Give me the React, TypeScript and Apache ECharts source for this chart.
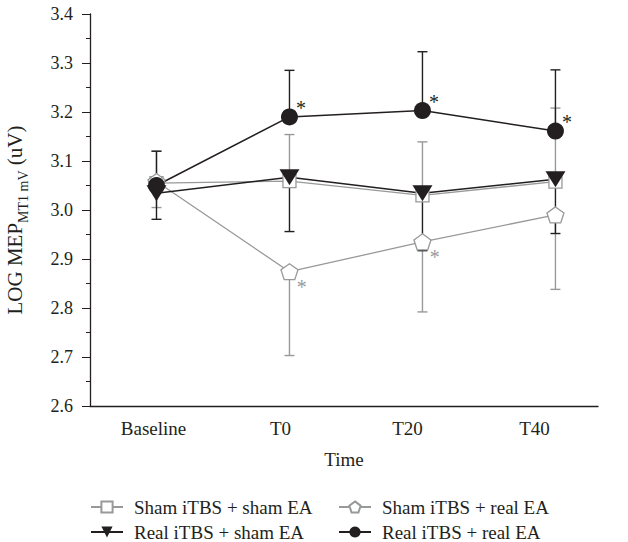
import React, { useEffect, useRef } from "react";
import * as echarts from "echarts";

// ---- data ----
const categories = ["Baseline", "T0", "T20", "T40"];
const yMin = 2.6;
const yMax = 3.4;
const yInterval = 0.1;

const shamShamName = "Sham iTBS + sham EA";
const shamShamMean = [3.055, 3.059, 3.03, 3.058];
const shamShamUpper = [3.12, 3.154, 3.139, 3.208];

const shamRealName = "Sham iTBS + real EA";
const shamRealMean = [3.058, 2.874, 2.935, 2.99];
const shamRealLower = [3.005, 2.703, 2.792, 2.838];
const shamRealSig = [false, true, true, false];

const realShamName = "Real iTBS + sham EA";
const realShamMean = [3.034, 3.067, 3.034, 3.063];
const realShamLower = [2.981, 2.956, 2.917, 2.952];

const realRealName = "Real iTBS + real EA";
const realRealMean = [3.05, 3.19, 3.203, 3.161];
const realRealUpper = [3.12, 3.285, 3.323, 3.286];
const realRealSig = [false, true, true, true];

const BLACK = "#231f20";
const GRAY = "#98999b";
const FONT = "Liberation Serif";
const PENTAGON = "path://M0,-1 L0.951,-0.309 L0.588,0.809 L-0.588,0.809 L-0.951,-0.309 Z";

function errorSeries(mean: number[], end: number[], color: string) {
  return {
    type: "custom",
    xAxisIndex: 1,
    yAxisIndex: 0,
    silent: true,
    data: mean.map((m, i) => [i, m, end[i]]),
    renderItem: (_params: any, api: any) => {
      const x = api.value(0);
      const p1 = api.coord([x, api.value(1)]);
      const p2 = api.coord([x, api.value(2)]);
      const hw = 5;
      return {
        type: "group",
        children: [
          { type: "line", shape: { x1: p1[0], y1: p1[1], x2: p2[0], y2: p2[1] }, style: { stroke: color, lineWidth: 1.4 } },
          { type: "line", shape: { x1: p2[0] - hw, y1: p2[1], x2: p2[0] + hw, y2: p2[1] }, style: { stroke: color, lineWidth: 1.4 } },
        ],
      };
    },
  };
}

function starData(mean: number[], sig: boolean[], color: string, below: boolean) {
  return mean.map((v, i) =>
    sig[i]
      ? {
          value: [i, v],
          label: {
            show: true,
            formatter: "*",
            position: "right",
            distance: 0,
            offset: below ? [-2, 15] : [-2, -9],
            color,
            fontSize: 20,
            fontFamily: FONT,
          },
        }
      : [i, v]
  );
}

function legendItem(name: string, left: number, top: number) {
  return {
    data: [name],
    left,
    top,
    padding: 0,
    itemWidth: 32,
    itemHeight: 14,
    textStyle: { fontSize: 19, lineHeight: 20, color: BLACK, fontFamily: FONT, padding: [0, 0, 0, 6] },
  };
}

export default function App() {
  const ref = useRef<HTMLDivElement>(null);
  useEffect(() => {
    if (!ref.current) return;
    const chart = echarts.init(ref.current, undefined, { renderer: "svg" });
    const option: any = {
      animation: false,
      backgroundColor: "#fff",
      textStyle: { fontFamily: FONT },
      grid: { left: 90, right: 30, top: 14, bottom: 136, containLabel: false },
      xAxis: [
        {
          type: "category",
          data: categories,
          boundaryGap: true,
          name: "Time",
          nameLocation: "middle",
          nameGap: 44,
          nameTextStyle: { fontSize: 19, color: BLACK, fontFamily: FONT },
          axisLine: { onZero: false, lineStyle: { color: BLACK, width: 1.3 } },
          axisTick: { alignWithLabel: true, length: 7, lineStyle: { color: BLACK } },
          axisLabel: { fontSize: 19, color: BLACK, margin: 13, fontFamily: FONT },
          splitLine: { show: false },
        },
        { type: "value", min: -0.5, max: 3.32, show: false },
      ],
      yAxis: {
        type: "value",
        min: yMin,
        max: yMax,
        interval: yInterval,
        axisLine: { show: true, onZero: false, lineStyle: { color: BLACK, width: 1.3 } },
        axisTick: { show: true, length: 8, lineStyle: { color: BLACK } },
        minorTick: { show: true, splitNumber: 2, length: 4, lineStyle: { color: BLACK } },
        splitLine: { show: false },
        minorSplitLine: { show: false },
        axisLabel: {
          fontSize: 18,
          color: BLACK,
          margin: 17,
          fontFamily: FONT,
          formatter: (v: number) => v.toFixed(1),
        },
      },
      legend: [
        legendItem(shamShamName, 90, 497),
        legendItem(realShamName, 90, 522),
        legendItem(shamRealName, 338, 497),
        legendItem(realRealName, 338, 522),
      ],
      graphic: [
        {
          type: "text",
          x: 15,
          y: 220,
          rotation: Math.PI / 2,
          style: {
            text: "{m|LOG MEP}{s|MT1 mV}{m| (uV)}",
            align: "center",
            verticalAlign: "middle",
            fill: BLACK,
            rich: {
              m: { fontSize: 21, lineHeight: 21, verticalAlign: "middle", fontFamily: FONT, fill: BLACK, color: BLACK },
              s: { fontSize: 14, lineHeight: 31, verticalAlign: "bottom", fontFamily: FONT, fill: BLACK, color: BLACK },
            },
          },
        },
      ],
      series: [
        errorSeries(shamShamMean, shamShamUpper, GRAY),
        errorSeries(shamRealMean, shamRealLower, GRAY),
        {
          name: shamShamName,
          type: "line",
          xAxisIndex: 1,
          data: shamShamMean.map((v, i) => [i, v]),
          symbol: "rect",
          symbolSize: 13,
          itemStyle: { color: "#fff", borderColor: GRAY, borderWidth: 1.3 },
          lineStyle: { color: GRAY, width: 1.3 },
        },
        {
          name: shamRealName,
          type: "line",
          xAxisIndex: 1,
          data: starData(shamRealMean, shamRealSig, GRAY, true),
          symbol: PENTAGON,
          symbolSize: [17, 16],
          itemStyle: { color: "#fff", borderColor: GRAY, borderWidth: 1.3 },
          lineStyle: { color: GRAY, width: 1.3 },
        },
        errorSeries(realShamMean, realShamLower, BLACK),
        errorSeries(realRealMean, realRealUpper, BLACK),
        {
          name: realShamName,
          type: "line",
          xAxisIndex: 1,
          data: realShamMean.map((v, i) => [i, v]),
          symbol: "triangle",
          symbolRotate: 180,
          symbolSize: [20, 16],
          itemStyle: { color: BLACK },
          lineStyle: { color: BLACK, width: 1.5 },
        },
        {
          name: realRealName,
          type: "line",
          xAxisIndex: 1,
          data: starData(realRealMean, realRealSig, BLACK, false),
          symbol: "circle",
          symbolSize: 17,
          itemStyle: { color: BLACK },
          lineStyle: { color: BLACK, width: 1.5 },
        },
      ],
    };
    chart.setOption(option);
    return () => chart.dispose();
  }, []);
  return <div ref={ref} style={{ position: "absolute", left: 0, top: 0, width: 628, height: 542 }} />;
}
